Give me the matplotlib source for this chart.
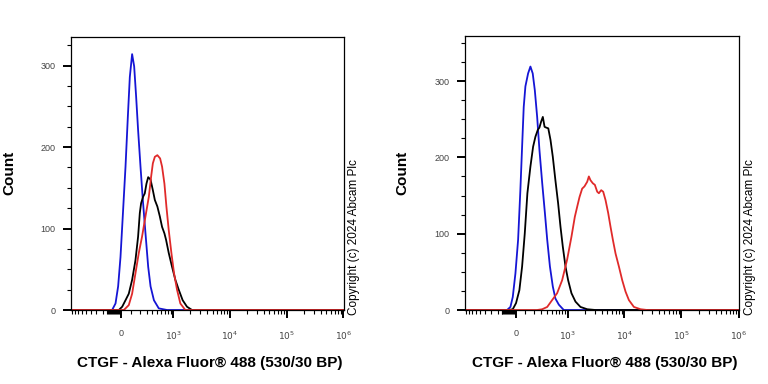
import numpy as np
import matplotlib.pyplot as plt
from matplotlib.ticker import FixedLocator, NullFormatter

plt.rcParams['font.family'] = ['Liberation Sans', 'DejaVu Sans']

# ---- data (fluorescence intensity, count) ----
# left panel
left_blue_x = [-950, -97, -61, -34, -10, 13, 41, 65, 86, 111, 134, 157, 181, 212, 244, 283, 326, 367, 431, 538, 771, 1.02e6]
left_blue_y = [0, 0, 8, 29, 65, 115, 176, 237, 286, 314, 299, 262, 221, 176, 135, 94, 53, 29, 12, 2, 0, 0]

left_red_x = [-950, 24, 75, 111, 149, 190, 233, 283, 337, 378, 410, 450, 505, 571, 622, 689, 750, 828, 926, 1035, 1170, 1343, 1648, 2165, 1.02e6]
left_red_y = [0, 0, 6, 20, 45, 70, 90, 115, 139, 164, 180, 188, 190, 186, 176, 155, 127, 98, 70, 45, 25, 8, 0, 0, 0]

left_black_x = [-950, -27, 7, 41, 75, 111, 149, 181, 203, 220, 248, 272, 298, 326, 367, 410, 450, 505, 563, 622, 689, 740, 828, 952, 1093, 1255, 1477, 1765, 2165, 2838, 1.02e6]
left_black_y = [0, 0, 4, 12, 20, 37, 61, 90, 119, 131, 139, 143, 155, 163, 160, 147, 135, 127, 115, 102, 94, 86, 70, 53, 37, 25, 12, 4, 0, 0, 0]

# right panel
right_blue_x = [-950, -89, -54, -30, -3, 24, 47, 65, 82, 100, 130, 157, 185, 212, 244, 277, 321, 367, 410, 465, 529, 594, 689, 850, 1123, 1.02e6]
right_blue_y = [0, 0, 4, 17, 48, 92, 157, 214, 266, 293, 310, 319, 310, 288, 253, 210, 166, 127, 92, 57, 31, 15, 7, 0, 0, 0]

right_black_x = [-950, -72, -30, 3, 37, 65, 93, 122, 157, 190, 220, 253, 277, 304, 331, 361, 391, 431, 477, 529, 594, 668, 740, 816, 913, 1020, 1170, 1380, 1693, 2225, 3118, 1.02e6]
right_black_y = [0, 0, 1, 9, 26, 57, 100, 153, 188, 214, 227, 236, 239, 247, 253, 240, 239, 238, 223, 201, 170, 140, 109, 83, 57, 39, 22, 11, 4, 1, 0, 0]

right_red_x = [-950, 244, 321, 410, 514, 640, 793, 978, 1170, 1343, 1477, 1628, 1813, 1994, 2225, 2380, 2545, 2798, 3035, 3338, 3570, 3923, 4253, 4674, 5205, 5720, 6285, 7000, 8015, 9168, 10490, 12000, 14690, 19225, 25175, 1.02e6]
right_red_y = [0, 0, 1, 4, 13, 22, 39, 66, 96, 122, 135, 148, 159, 162, 168, 175, 170, 166, 164, 155, 153, 157, 155, 144, 127, 109, 92, 74, 57, 39, 24, 13, 4, 1, 0, 0]

x_major = [0, 1e3, 1e4, 1e5, 1e6]
x_major_labels = ['0', '$10^3$', '$10^4$', '$10^5$', '$10^6$']
y_major = [0, 100, 200, 300]
xlabel = 'CTGF - Alexa Fluor® 488 (530/30 BP)'
copyright_txt = 'Copyright (c) 2024 Abcam Plc'

W = 250.0


def fwd(x):
    return np.arcsinh(np.asarray(x) / W) / np.log(10)


def inv(y):
    return W * np.sinh(np.asarray(y) * np.log(10))


def minor_ticks():
    t = [-v for v in range(200, 1000, 100)]
    t += list(range(-150, 0, 10))
    t += list(range(100, 1000, 100))
    for e in [3, 4, 5]:
        t += [k * 10 ** e for k in range(2, 10)]
    return t


def style(ax, ytop):
    ax.set_xscale('function', functions=(fwd, inv))
    ax.set_xlim(-950, 1.02e6)
    ax.set_ylim(0, ytop)
    ax.xaxis.set_major_locator(FixedLocator(x_major))
    ax.set_xticklabels(x_major_labels)
    ax.xaxis.set_minor_locator(FixedLocator(minor_ticks()))
    ax.xaxis.set_minor_formatter(NullFormatter())
    ax.yaxis.set_major_locator(FixedLocator(y_major))
    ax.yaxis.set_minor_locator(FixedLocator(np.arange(0, ytop, 25)))
    ax.tick_params(which='major', length=6, width=1.4, labelsize=6.5,
                   labelcolor='#444444', pad=5)
    ax.tick_params(axis='x', which='major', pad=8)
    ax.tick_params(which='minor', length=3, width=0.8)
    for s in ax.spines.values():
        s.set_linewidth(0.9)


fig = plt.figure(figsize=(7.68, 3.84), dpi=100)
axL = fig.add_axes([0.0924, 0.1927, 0.3555, 0.7109])
axR = fig.add_axes([0.6055, 0.1927, 0.3568, 0.7135])

axL.plot(left_blue_x, left_blue_y, color='#1515d5', lw=1.3)
axL.plot(left_black_x, left_black_y, color='black', lw=1.3)
axL.plot(left_red_x, left_red_y, color='#e02a2a', lw=1.3)
style(axL, 335)

axR.plot(right_blue_x, right_blue_y, color='#1515d5', lw=1.3)
axR.plot(right_black_x, right_black_y, color='black', lw=1.3)
axR.plot(right_red_x, right_red_y, color='#e02a2a', lw=1.3)
style(axR, 359)

for cx, xc in [(9, 210), (402, 605)]:
    fig.text(cx / 768, 1 - 173 / 384, 'Count', rotation=90, ha='center', va='center',
             fontsize=11, fontweight='bold')
    fig.text(xc / 768, 1 - 363 / 384, xlabel, ha='center', va='center',
             fontsize=11, fontweight='bold')
for cx in [354, 750]:
    fig.text(cx / 768, 1 - 237 / 384, copyright_txt, rotation=90, ha='center', va='center',
             fontsize=8.5)

fig.savefig('out.png', dpi=100)
